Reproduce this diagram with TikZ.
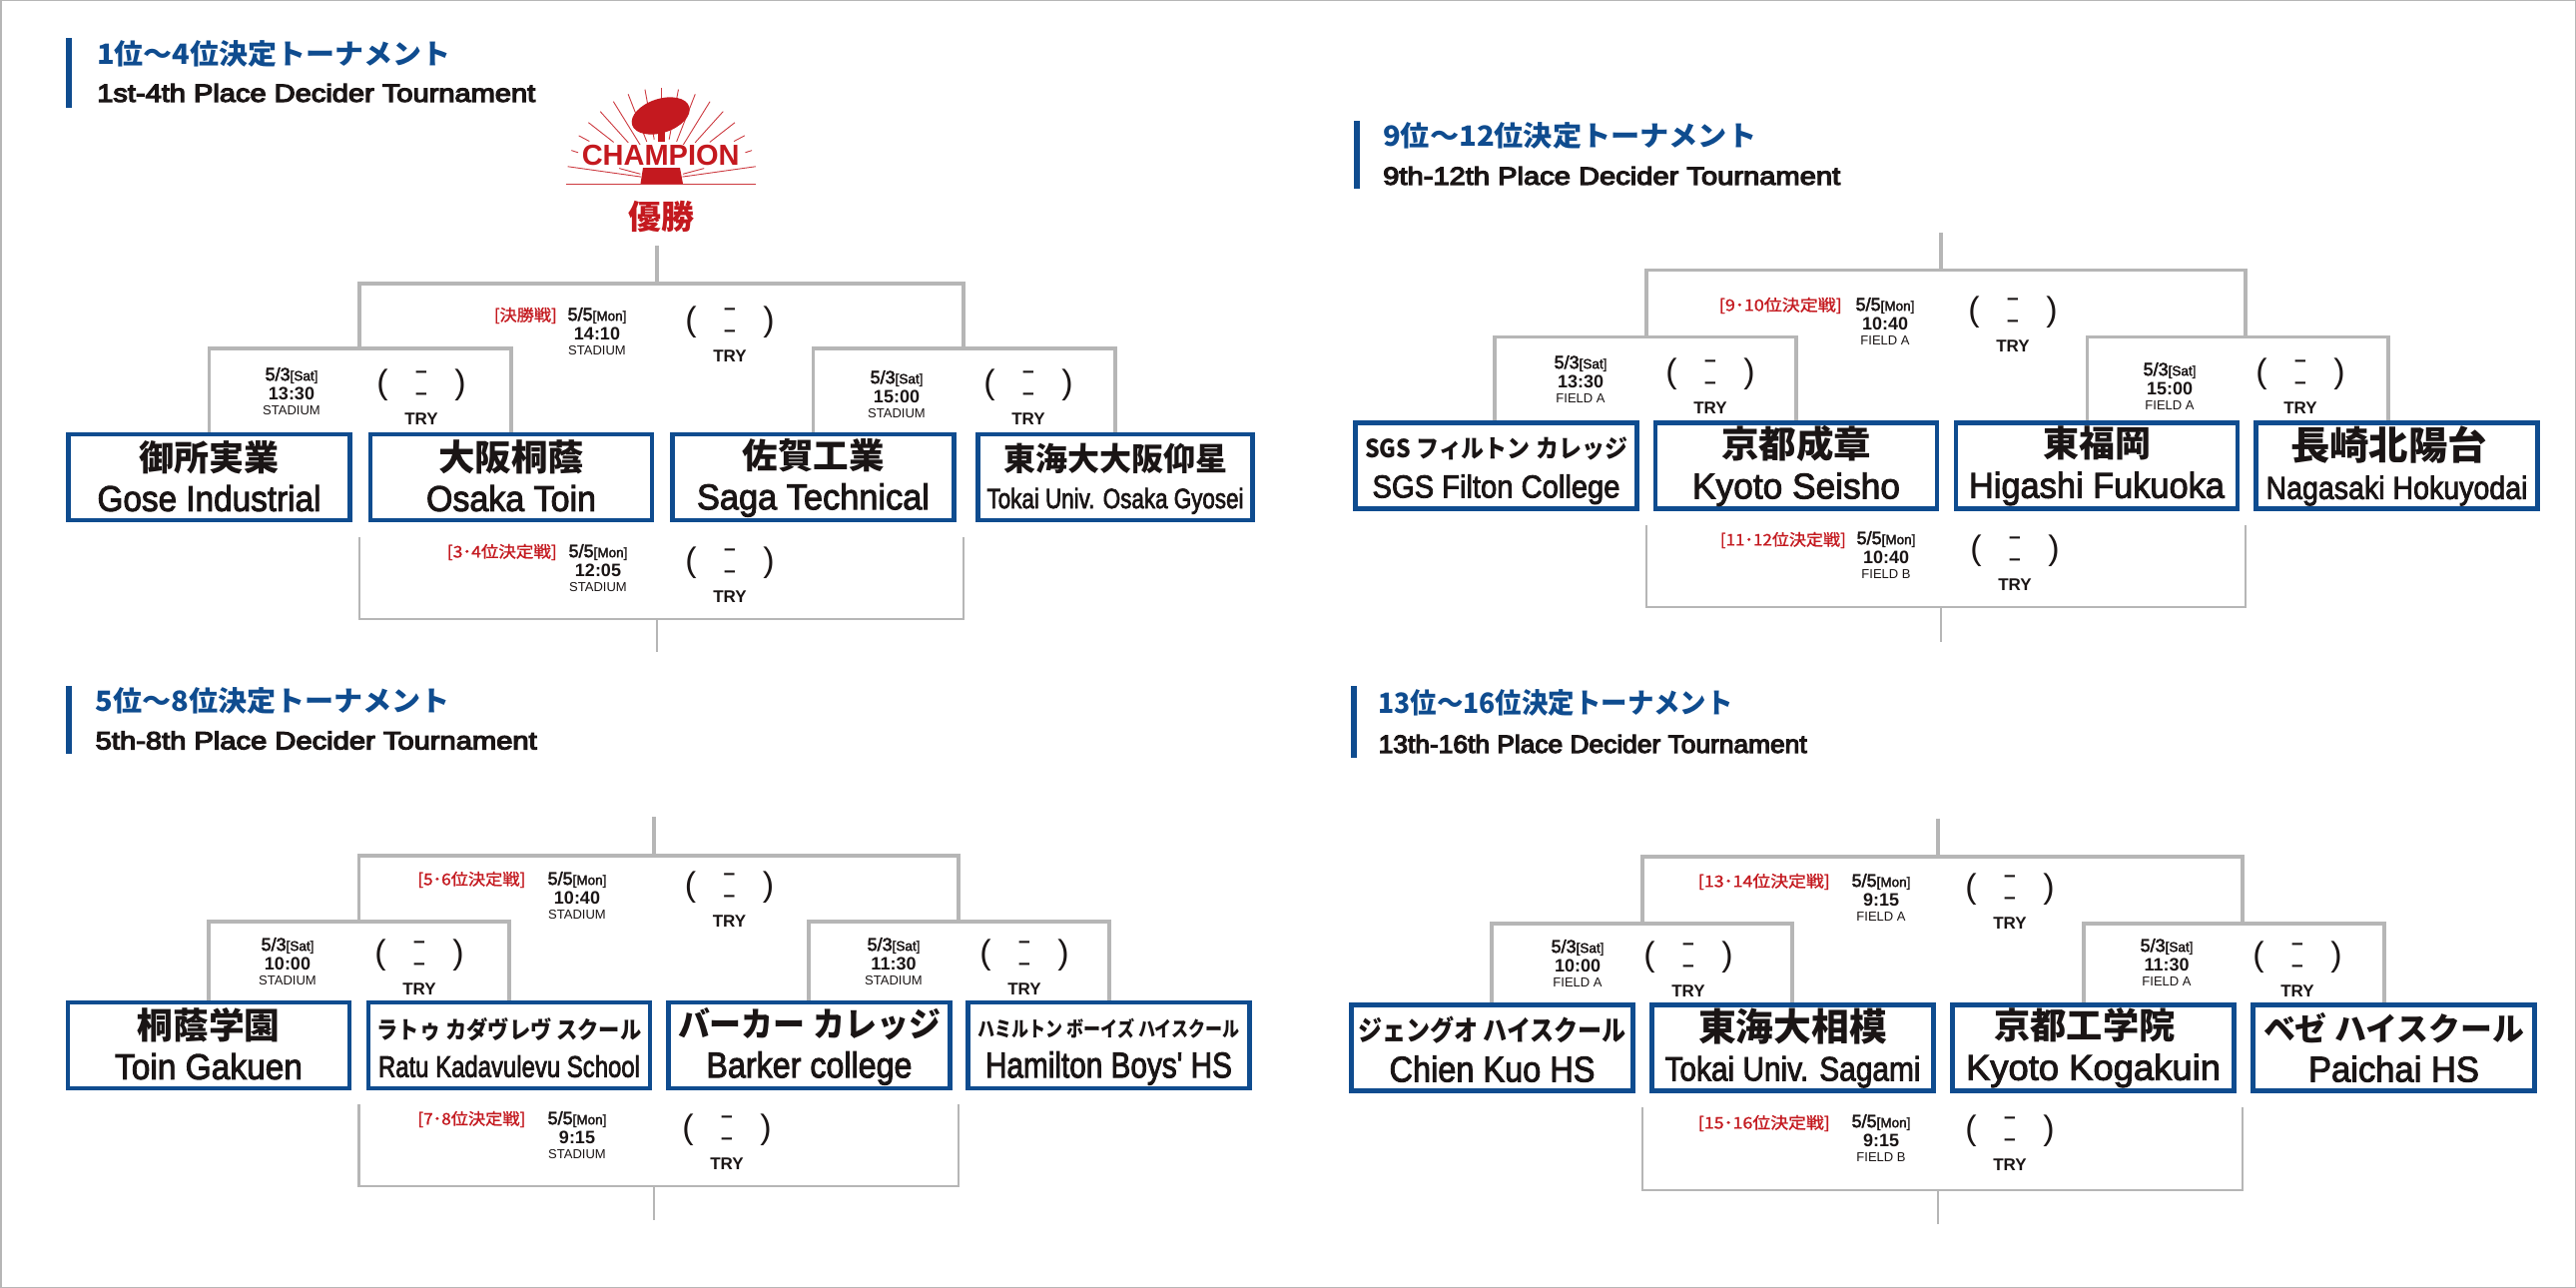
\documentclass[tikz,border=0pt]{standalone}
\usepackage{graphicx}
\usepackage{fontspec}
\setmainfont{Liberation Sans}
\newfontfamily\jpfont{Noto Sans CJK JP}
\newfontfamily\jpmedfont[FakeBold=1.2]{Noto Sans CJK JP}
\newfontfamily\medfont[FakeBold=2.6]{Liberation Sans}
\newfontfamily\headfont[FakeBold=4.5]{Liberation Sans}
\usepackage{xcolor}
\definecolor{dblue}{HTML}{0F4C8F}
\definecolor{treegray}{HTML}{B6B6B6}
\definecolor{dred}{HTML}{C4191F}
\definecolor{inkblack}{HTML}{1A1515}
\tikzset{
  teambox/.style={draw=dblue,line width=4.5pt,fill=white,inner sep=0pt,align=center,text=inkblack,
    font=\fontsize{10}{41}\selectfont,minimum width=282pt,minimum height=86pt},
  titlebar/.style={fill=dblue,draw=none},
  titlejp/.style={anchor=west,inner sep=0pt,text=dblue,font=\jpfont\bfseries},
  titleen/.style={anchor=west,inner sep=0pt,text=inkblack,font=\headfont},
  barline/.style={treegray,line width=3.6pt},
  lowline/.style={treegray,line width=2.4pt},
  roundtext/.style={anchor=east,inner sep=0pt,text=dred,font=\jpmedfont},
  infotext/.style={inner sep=0pt,text=inkblack},
  datetext/.style={infotext,font=\medfont\fontsize{18}{18}\selectfont},
  timetext/.style={infotext,font=\bfseries\fontsize{18}{18}\selectfont},
  venuetext/.style={infotext,font=\fontsize{13}{13}\selectfont},
  parentext/.style={infotext,font=\fontsize{34}{34}\selectfont},
  dashtext/.style={infotext,font=\bfseries\fontsize{21}{21}\selectfont},
  trytext/.style={infotext,font=\bfseries\fontsize{17}{17}\selectfont},
  rayline/.style={dred!85,line width=.9pt},
}
% width-fitted text: {width}{size}{text}
\newcommand\fitw[3]{\resizebox{#1pt}{\height}{\fontsize{#2}{#2}\selectfont #3}}
% [jp shift], jp width, size, text, en width, size, text
\newcommand\teamtext[7][0]{%
  \rule{0pt}{31pt}\hspace*{#1pt}{\jpfont\bfseries\fitw{#2}{#3}{#4}}\\%
  \rule[-4pt]{0pt}{4pt}\raisebox{\dimexpr 13pt-#6pt*358/1000\relax}{\medfont\fitw{#5}{#6}{#7}}}
% name, x, y, date, day, time, venue
\newcommand\gameinfo[7]{%
  \node[datetext] (#1date) at (#2,#3) {#4{\fontsize{13.5}{13.5}\selectfont[#5]}};
  \node[timetext] (#1time) at (#2,{#3+18.5}) {#6};
  \node[venuetext] (#1venue) at (#2,{#3+35.5}) {#7};
}
% name, x, y
\newcommand\scoremark[3]{%
  \node[parentext] (#1open) at ({#2-39},#3) {(};
  \node[parentext] (#1close) at ({#2+39},#3) {)};
  \node[dashtext] (#1home) at (#2,{#3-11}) {--};
  \node[dashtext] (#1away) at (#2,{#3+11}) {--};
  \node[trytext] (#1try) at (#2,{#3+33.5}) {TRY};
}
% prefix, box names
\newcommand\treelines[5]{%
  \draw[barline] (#1SemiLL |- #2.north) -- (#1SemiLL) -- (#1SemiLR) -- (#1SemiLR |- #3.north);
  \draw[barline] (#1SemiRL |- #4.north) -- (#1SemiRL) -- (#1SemiRR) -- (#1SemiRR |- #5.north);
  \draw[barline] (#1FinalL |- #1SemiLL) -- (#1FinalL) -- (#1FinalR) -- (#1FinalR |- #1SemiRL);
  \draw[barline] (#1Top) -- (#1Top |- #1FinalL);
  \draw[lowline] (#1LowL) -- (#1LowL |- #1LowBar) -- (#1LowR |- #1LowBar) -- (#1LowR);
  \draw[lowline] (#1Top |- #1LowBar) -- (#1LowBar);
}
\begin{document}
\begin{tikzpicture}[x=1pt,y=-1pt]
	\useasboundingbox (0,0) rectangle (2580,1290);
	\fill[white] (0,0) rectangle (2580,1290);
	\draw[treegray,line width=3pt] (0,0) rectangle (2580,1290);

	% 1st-4th
	\fill[titlebar] (66,38) rectangle (72,108);
	\node[titlejp] (titleAjp) at (97,54) {\fitw{354}{28}{1位〜4位決定トーナメント}};
	\node[titleen] (titleAen) at (97,93) {\fitw{439}{25}{1st-4th Place Decider Tournament}};
	\foreach \nm/\px/\py in {Top/658/246,FinalL/360/284,FinalR/965/284,SemiLL/209.5/349,SemiLR/512/349,SemiRL/814.5/349,SemiRR/1117/349,LowL/360/538,LowR/965/538,LowBar/658/620}
		\coordinate (a\nm) at (\px,\py);
	\coordinate (aLowEnd) at (658,653);
	\node[teambox] (gose) at (209.5,478) {\teamtext{140}{35}{御所実業}{224}{36}{Gose Industrial}};
	\node[teambox] (toin) at (512,478) {\teamtext{146}{36}{大阪桐蔭}{170}{36}{Osaka Toin}};
	\node[teambox] (saga) at (814.5,478) {\teamtext{142}{35}{佐賀工業}{233}{36}{Saga Technical}};
	\node[teambox,minimum width=275pt] (tokaiOsaka) at (1117,478) {\teamtext{224}{32}{東海大大阪仰星}{257}{28}{Tokai Univ. Osaka Gyosei}};
	\treelines{a}{gose}{toin}{saga}{tokaiOsaka}
	\draw[lowline] (aLowBar) -- (aLowEnd);
	\gameinfo{aFinal}{598}{316}{5/5}{Mon}{14:10}{STADIUM}
	\scoremark{aFinal}{731}{323}
	\node[roundtext] (aFinalround) at (558,316) {\fitw{63}{16}{[決勝戦]}};
	\gameinfo{aSemiL}{292}{376}{5/3}{Sat}{13:30}{STADIUM}
	\scoremark{aSemiL}{422}{386}
	\gameinfo{aSemiR}{898}{379}{5/3}{Sat}{15:00}{STADIUM}
	\scoremark{aSemiR}{1030}{386}
	\gameinfo{aLow}{599}{553}{5/5}{Mon}{12:05}{STADIUM}
	\scoremark{aLow}{731}{564}
	\node[roundtext] (aLowround) at (558,553) {\fitw{110}{16}{[3･4位決定戦]}};

	% champion mark
	\coordinate (rayO) at (662.7,180);
	\foreach \ang/\rin/\rout in {100.5/41/92,90/41/92,111.4/41/92,121.7/41/92,132/50/92,142/61/93,152/82/94,162/88/95,172/21/95,165/22/44}{
		\draw[rayline] ([shift={(-\ang:\rin)}]rayO) -- ([shift={(-\ang:\rout)}]rayO);
		\draw[rayline] ([shift={(\ang-180:\rin)}]rayO) -- ([shift={(\ang-180:\rout)}]rayO);
	}
	\fill[dred,rotate around={18:(661.7,116)}] (661.7,116) ellipse (30 and 17);
	\fill[dred] (659,128) rectangle (666,142);
	\node[fill=white,inner sep=1pt,text=dred,font=\bfseries\fontsize{29}{29}\selectfont] (champion) at (661.7,156) {CHAMPION};
	\fill[dred] (644,168) -- (681,168) -- (684,184) -- (641.5,184) -- cycle;
	\draw[rayline] (566.7,184) -- (757.3,184);
	\node[inner sep=0pt,text=dred,font=\jpfont\bfseries\fontsize{33}{33}\selectfont] (winner) at (662,217) {優勝};

	% 9th-12th
	\fill[titlebar] (1356,120.5) rectangle (1362,189);
	\node[titlejp] (titleBjp) at (1385,136) {\fitw{374}{28}{9位〜12位決定トーナメント}};
	\node[titleen] (titleBen) at (1385,176) {\fitw{458}{25}{9th-12th Place Decider Tournament}};
	\foreach \nm/\px/\py in {Top/1944/233,FinalL/1649/270.5,FinalR/2249/270.5,SemiLL/1497/337.5,SemiLR/1799/337.5,SemiRL/2090.5/337.5,SemiRR/2392/337.5,LowL/1649/526,LowR/2249/526,LowBar/1944/608}
		\coordinate (b\nm) at (\px,\py);
	\coordinate (bLowEnd) at (1944,642.5);
	\node[teambox] (filton) at (1498.5,466.5) {\teamtext{263}{25}{SGS フィルトン カレッジ}{248}{32}{SGS Filton College}};
	\node[teambox] (seisho) at (1799,466.5) {\teamtext{150}{37}{京都成章}{208}{36}{Kyoto Seisho}};
	\node[teambox] (higashi) at (2100,466.5) {\teamtext{108}{36}{東福岡}{256}{36}{Higashi Fukuoka}};
	\node[teambox] (hokuyodai) at (2400.5,466.5) {\teamtext[-16]{197}{39}{長崎北陽台}{262}{32}{Nagasaki Hokuyodai}};
	\treelines{b}{filton}{seisho}{higashi}{hokuyodai}
	\draw[lowline] (bLowBar) -- (bLowEnd);
	\gameinfo{bFinal}{1888}{306}{5/5}{Mon}{10:40}{FIELD A}
	\scoremark{bFinal}{2016}{313}
	\node[roundtext] (bFinalround) at (1845,306) {\fitw{123}{16}{[9･10位決定戦]}};
	\gameinfo{bSemiL}{1583}{364}{5/3}{Sat}{13:30}{FIELD A}
	\scoremark{bSemiL}{1713}{375}
	\gameinfo{bSemiR}{2173}{371}{5/3}{Sat}{15:00}{FIELD A}
	\scoremark{bSemiR}{2304}{375}
	\gameinfo{bLow}{1889}{540}{5/5}{Mon}{10:40}{FIELD B}
	\scoremark{bLow}{2018}{552}
	\node[roundtext] (bLowround) at (1849,541) {\fitw{126}{16}{[11･12位決定戦]}};

	% 5th-8th
	\fill[titlebar] (66,686.5) rectangle (72,755);
	\node[titlejp] (titleCjp) at (95.5,702) {\fitw{355}{28}{5位〜8位決定トーナメント}};
	\node[titleen] (titleCen) at (95.5,741.5) {\fitw{442}{25}{5th-8th Place Decider Tournament}};
	\foreach \nm/\px/\py in {Top/655/818,FinalL/359.5/857,FinalR/960/857,SemiLL/209/923,SemiLR/510/923,SemiRL/810/923,SemiRR/1111/923,LowL/359.5/1106,LowR/960/1106,LowBar/655/1188}
		\coordinate (c\nm) at (\px,\py);
	\coordinate (cLowEnd) at (655,1222);
	\node[teambox] (gakuen) at (209,1047) {\teamtext{143}{36}{桐蔭学園}{188}{36}{Toin Gakuen}};
	\node[teambox] (kadavulevu) at (510,1047) {\teamtext{265}{24}{ラトゥ カダヴレヴ スクール}{262}{30}{Ratu Kadavulevu School}};
	\node[teambox] (barker) at (810.5,1047) {\teamtext{263}{34}{バーカー カレッジ}{206}{36}{Barker college}};
	\node[teambox] (hamilton) at (1110.5,1047) {\teamtext{262}{21}{ハミルトン ボーイズ ハイスクール}{247}{36}{Hamilton Boys' HS}};
	\treelines{c}{gakuen}{kadavulevu}{barker}{hamilton}
	\draw[lowline] (cLowBar) -- (cLowEnd);
	\gameinfo{cFinal}{578}{881}{5/5}{Mon}{10:40}{STADIUM}
	\scoremark{cFinal}{730.5}{889}
	\node[roundtext] (cFinalround) at (526.5,881) {\fitw{108}{16}{[5･6位決定戦]}};
	\gameinfo{cSemiL}{288}{947}{5/3}{Sat}{10:00}{STADIUM}
	\scoremark{cSemiL}{420}{957}
	\gameinfo{cSemiR}{895}{947}{5/3}{Sat}{11:30}{STADIUM}
	\scoremark{cSemiR}{1026}{957}
	\gameinfo{cLow}{578}{1121}{5/5}{Mon}{9:15}{STADIUM}
	\scoremark{cLow}{728}{1132}
	\node[roundtext] (cLowround) at (526.5,1121) {\fitw{108}{16}{[7･8位決定戦]}};

	% 13th-16th
	\fill[titlebar] (1353,687) rectangle (1359,759);
	\node[titlejp] (titleDjp) at (1380.5,704) {\fitw{355}{28}{13位〜16位決定トーナメント}};
	\node[titleen] (titleDen) at (1380.5,745) {\fitw{429}{25}{13th-16th Place Decider Tournament}};
	\foreach \nm/\px/\py in {Top/1941/819.5,FinalL/1645/858,FinalR/2246/858,SemiLL/1494/925,SemiLR/1795/925,SemiRL/2087/925,SemiRR/2388/925,LowL/1645/1109,LowR/2246/1109,LowBar/1941/1192}
		\coordinate (d\nm) at (\px,\py);
	\coordinate (dLowEnd) at (1941,1226);
	\node[teambox] (chien) at (1494.5,1049.5) {\teamtext{269}{28}{ジェングオ ハイスクール}{206}{36}{Chien Kuo HS}};
	\node[teambox] (sagami) at (1795.5,1049.5) {\teamtext{189}{38}{東海大相模}{256}{34}{Tokai Univ. Sagami}};
	\node[teambox] (kogakuin) at (2096.5,1049.5) {\teamtext[-17]{181}{36}{京都工学院}{255}{36}{Kyoto Kogakuin}};
	\node[teambox] (paichai) at (2397.5,1049.5) {\teamtext{261}{32}{ベゼ ハイスクール}{171}{36}{Paichai HS}};
	\treelines{d}{chien}{sagami}{kogakuin}{paichai}
	\draw[lowline] (dLowBar) -- (dLowEnd);
	\gameinfo{dFinal}{1884}{883}{5/5}{Mon}{9:15}{FIELD A}
	\scoremark{dFinal}{2013}{891}
	\node[roundtext] (dFinalround) at (1833,883) {\fitw{132}{16}{[13･14位決定戦]}};
	\gameinfo{dSemiL}{1580}{949}{5/3}{Sat}{10:00}{FIELD A}
	\scoremark{dSemiL}{1691}{959}
	\gameinfo{dSemiR}{2170}{948}{5/3}{Sat}{11:30}{FIELD A}
	\scoremark{dSemiR}{2301}{959}
	\gameinfo{dLow}{1884}{1124}{5/5}{Mon}{9:15}{FIELD B}
	\scoremark{dLow}{2013}{1133}
	\node[roundtext] (dLowround) at (1833,1125) {\fitw{132}{16}{[15･16位決定戦]}};
\end{tikzpicture}
\end{document}
